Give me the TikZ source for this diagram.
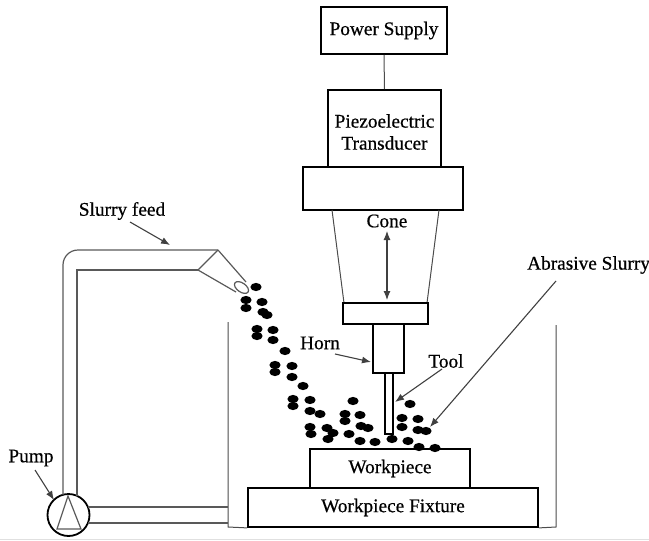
\documentclass[tikz,border=0pt]{standalone}
\usepackage{fontspec}
\setmainfont{Liberation Serif}
\newfontfamily\labelfont{Liberation Serif}[FakeBold=0.6]
\usetikzlibrary{arrows.meta}
\begin{document}
\begin{tikzpicture}[x=1pt,y=-1pt,
  box/.style={draw=black,line width=1.8pt,inner sep=0pt,align=center,
    font=\labelfont\fontsize{19.3}{24}\selectfont,text=black},
  lbl/.style={inner sep=1pt,align=center,font=\labelfont\fontsize{19.3}{23}\selectfont,text=black},
  thin/.style={draw=black!70,line width=1pt},
  pipe/.style={draw=black!65,line width=1.2pt},
  ptr/.style={draw=black!75,line width=1.1pt,-{Latex[length=9pt,width=7pt]}},
  grain/.style={fill=black,draw=none}]
\useasboundingbox (0,0) rectangle (649,541);

% ultrasonic head: supply, transducer, flange
\node[box,minimum width=126pt,minimum height=47pt] (ps) at (384,30.5) {Power Supply};
\node[box,minimum width=113pt,minimum height=77pt] (pt) at (384.5,128.5) {};
\node[lbl] (ptt) at (384.5,132) {Piezoelectric\\[-1pt]Transducer};
\draw[thin] (ps.south) -- (pt.north);
\node[box,minimum width=160pt,minimum height=43pt] (fl) at (383,188.5) {};

% cone and horn
\draw[thin] (332,210) -- (344,303);
\draw[thin] (439,210) -- (427,303);
\node[box,minimum width=85pt,minimum height=21pt] (hf) at (385.5,313.5) {};
\node[box,minimum width=31pt,minimum height=49pt] (horn) at (388.5,348.5) {};
\node[box,line width=1.5pt,minimum width=8pt,minimum height=61pt] (tool) at (389,403.5) {};
\node[lbl] (cone) at (387,221) {Cone};
\coordinate (ctop) at (387,231);
\coordinate (cbot) at (387,300);
\draw[draw=black!75,line width=1.1pt,{Latex[length=9pt,width=7pt]}-{Latex[length=9pt,width=7pt]}] (ctop) -- (cbot);

% workpiece and fixture
\node[box,minimum width=160pt,minimum height=39pt] (wp) at (390,468.5) {Workpiece};
\node[box,minimum width=290pt,minimum height=39pt] (fx) at (393,507.5) {Workpiece Fixture};

% slurry tank
\draw[thin] (228,322) -- (228,527) -- (fx.south west);
\draw[thin] (556,325) -- (556,527) -- (fx.south east);

% pump
\node[draw=black,line width=1.8pt,circle,minimum size=42pt,inner sep=0pt] (pump) at (68.5,515) {};
\draw[pipe] (68,496) -- (57,529) -- (81,529) -- cycle;

% pipe loop and nozzle
\draw[pipe] (63,495) -- (63,265) arc[start angle=180,end angle=270,radius=15] -- (218,250);
\draw[pipe] (77,496) -- (77,270) -- (198,270);
\draw[pipe] (218,250) -- (198,270);
\draw[pipe] (218,250) -- (246,282);
\draw[pipe] (198,270) -- (236,292);
\draw[pipe,fill=white] (241.5,287.5) ellipse[x radius=8pt,y radius=4.5pt,rotate=-35];
\draw[pipe] (88,507) -- (228,507);
\draw[pipe] (88,523) -- (228,523);

% abrasive grains
\foreach \gx/\gy in {256/287,246/300,246/308,262/302,263/312,267/315,
  257/329,257/336,273/330,273/340,285/351,275/365,275/372,292/366,292/377,
  303/386,293/399,293/406,310/400,310/411,320/414,310/427,311/434,327/428,
  333/433,328/439,353/401,345/414,345/421,360/415,361/426,368/428,349/434,
  360/441,375/442,392/439,408/441,410/404,402/418,402/427,418/419,418/430,
  426/431,419/447,435/448}
  \fill[grain] (\gx,\gy) ellipse[x radius=5.6pt,y radius=4.1pt];

% labels and pointers
\node[lbl] (sf) at (122,211) {Slurry feed};
\coordinate (sfp) at (170,245);
\draw[ptr] (130,222) -- (sfp);
\node[lbl] (pl) at (31,458) {Pump};
\coordinate (plp) at (54,500);
\draw[ptr] (35,470) -- (plp);
\node[lbl] (hl) at (320,343) {Horn};
\coordinate (hlp) at (371,362);
\draw[ptr] (335,354) -- (hlp);
\node[lbl] (tl) at (446,361) {Tool};
\coordinate (tlp) at (395,402);
\draw[ptr] (442,369) -- (tlp);
\node[lbl,anchor=west] (al) at (526,265) {Abrasive Slurry};
\coordinate (alp) at (430,427);
\draw[ptr] (556,281) -- (alp);

% page edge rule
\draw[draw=black!12,line width=1pt] (0,539) -- (649,539);
\end{tikzpicture}
\end{document}
